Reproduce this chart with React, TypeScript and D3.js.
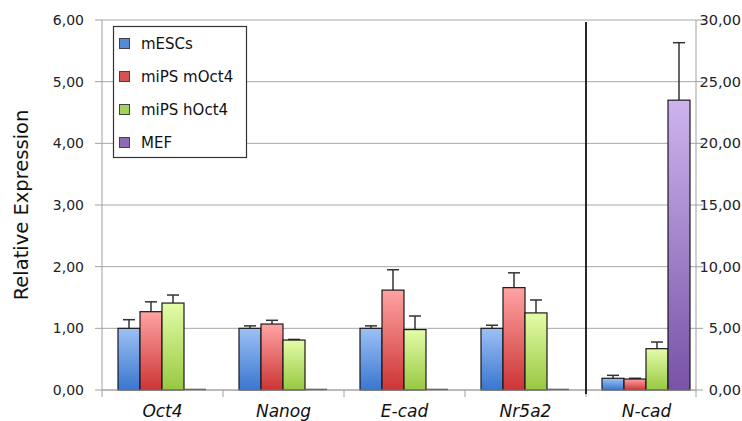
import React from "react";
import * as d3 from "d3";

const categories = ["Oct4", "Nanog", "E-cad", "Nr5a2", "N-cad"];
const seriesNames = ["mESCs", "miPS mOct4", "miPS hOct4", "MEF"];
// values for first four categories on left axis, N-cad on right axis
const mESCs = [1.0, 1.0, 1.0, 1.0, 0.95];
const mESCsErr = [0.14, 0.04, 0.04, 0.05, 0.24];
const miPSmOct4 = [1.27, 1.07, 1.62, 1.66, 0.89];
const miPSmOct4Err = [0.16, 0.06, 0.33, 0.24, 0.06];
const miPShOct4 = [1.41, 0.81, 0.98, 1.25, 3.35];
const miPShOct4Err = [0.13, 0.01, 0.22, 0.21, 0.54];
const MEF = [0.01, 0.01, 0.0, 0.01, 23.5];
const MEFErr = [0, 0, 0, 0, 4.66];
const leftTicks = [0, 1, 2, 3, 4, 5, 6];
const rightTicks = [0, 5, 10, 15, 20, 25, 30];

const colors = [
  ["#9cc0f5", "#3a76cf"],
  ["#ffa3a3", "#cc3535"],
  ["#e4fca8", "#97c840"],
  ["#cdb4ee", "#7852a6"],
];

const fmt = (v: number) => v.toFixed(2).replace(".", ",");

export default function App() {
  const W = 742, H = 421;
  const x0 = 102, xR = 696, yTop = 20, yBot = 390;
  const catW = 121;
  const x = d3.scaleBand().domain(categories).range([x0, x0 + catW * 5]).paddingInner(0).paddingOuter(0);
  const inner = d3.scaleBand().domain(seriesNames).range([16, 16 + 88]);
  const yL = d3.scaleLinear().domain([0, 6]).range([yBot, yTop]);
  const yR = d3.scaleLinear().domain([0, 30]).range([yBot, yTop]);
  const vals = [mESCs, miPSmOct4, miPShOct4, MEF];
  const errs = [mESCsErr, miPSmOct4Err, miPShOct4Err, MEFErr];
  const font = "'DejaVu Sans', sans-serif";
  const sepX = x0 + catW * 4;

  return (
    <svg width={W} height={H} style={{ position: "absolute", left: 0, top: 0 }}>
      <defs>
        {colors.map((c, i) => (
          <linearGradient key={i} id={`g${i}`} x1="0" y1="0" x2="0" y2="1">
            <stop offset="0%" stopColor={c[0]} />
            <stop offset="100%" stopColor={c[1]} />
          </linearGradient>
        ))}
      </defs>
      <rect width={W} height={H} fill="#fff" />
      {/* gridlines */}
      {leftTicks.map((t) => (
        <line key={t} x1={x0} x2={xR} y1={yL(t)} y2={yL(t)} stroke="#a8a8a8" strokeWidth={1} />
      ))}
      {/* left axis */}
      <line x1={x0} x2={x0} y1={yTop} y2={yBot} stroke="#a0a0a0" />
      {leftTicks.map((t) => (
        <g key={t}>
          <line x1={x0 - 7} x2={x0} y1={yL(t)} y2={yL(t)} stroke="#a0a0a0" />
          <text x={84} y={yL(t)} dy="0.35em" textAnchor="end" fontFamily={font} fontSize={14} fill="#222">
            {fmt(t)}
          </text>
        </g>
      ))}
      {/* right axis */}
      <line x1={xR} x2={xR} y1={yTop} y2={yBot} stroke="#a0a0a0" />
      {rightTicks.map((t) => (
        <g key={t}>
          <line x1={xR} x2={xR + 7} y1={yR(t)} y2={yR(t)} stroke="#a0a0a0" />
          <text x={741} y={yR(t)} dy="0.35em" textAnchor="end" fontFamily={font} fontSize={14.5} fill="#222">
            {fmt(t)}
          </text>
        </g>
      ))}
      {/* x ticks */}
      {[0, 1, 2, 3, 4].map((i) => (
        <line key={i} x1={x0 + i * catW} x2={x0 + i * catW} y1={yBot} y2={yBot + 7} stroke="#a0a0a0" />
      ))}
      <line x1={xR} x2={xR} y1={yBot} y2={yBot + 7} stroke="#a0a0a0" />
      {/* bars */}
      {categories.map((c, ci) => {
        const y = ci === 4 ? yR : yL;
        return (
          <g key={c}>
            {seriesNames.map((s, si) => {
              const v = vals[si][ci];
              const e = errs[si][ci];
              const bx = (x(c) as number) + (inner(s) as number);
              const bw = inner.bandwidth();
              const top = y(v);
              return (
                <g key={s}>
                  {e > 0 && (
                    <g stroke="#333" strokeWidth={1.5}>
                      <line x1={bx + bw / 2} x2={bx + bw / 2} y1={top} y2={y(v + e)} />
                      <line x1={bx + bw / 2 - 6} x2={bx + bw / 2 + 6} y1={y(v + e)} y2={y(v + e)} />
                    </g>
                  )}
                  {v > 0.02 ? (
                    <rect x={bx} y={top} width={bw} height={yBot - top} fill={`url(#g${si})`} stroke="#1a1a1a" strokeWidth={1.2} />
                  ) : (
                    <line x1={bx} x2={bx + bw} y1={yBot - 0.5} y2={yBot - 0.5} stroke="#333" strokeWidth={1.5} />
                  )}
                </g>
              );
            })}
            <text x={(x(c) as number) + catW / 2} y={417} textAnchor="middle" fontFamily={font} fontStyle="italic" fontSize={17} fill="#111">
              {c}
            </text>
          </g>
        );
      })}
      {/* x axis baseline */}
      <line x1={x0} x2={xR} y1={yBot} y2={yBot} stroke="#a0a0a0" />
      {/* separator */}
      <line x1={sepX} x2={sepX} y1={22} y2={yBot + 4} stroke="#111" strokeWidth={1.8} />
      {/* legend */}
      <rect x={113.5} y={26.5} width={133} height={131} fill="#fff" stroke="#333" strokeWidth={1.2} />
      {seriesNames.map((s, i) => (
        <g key={s}>
          <rect x={119.5} y={38.5 + i * 33} width={10} height={10} fill={colors[i][1]} opacity={0.85} stroke="#222" />
          <text x={141} y={44 + i * 33} dy="0.35em" fontFamily={font} fontSize={15} fill="#111">
            {s}
          </text>
        </g>
      ))}
      {/* y title */}
      <text transform="translate(28,205) rotate(-90)" textAnchor="middle" fontFamily={font} fontSize={19.5} fill="#111">
        Relative Expression
      </text>
    </svg>
  );
}
